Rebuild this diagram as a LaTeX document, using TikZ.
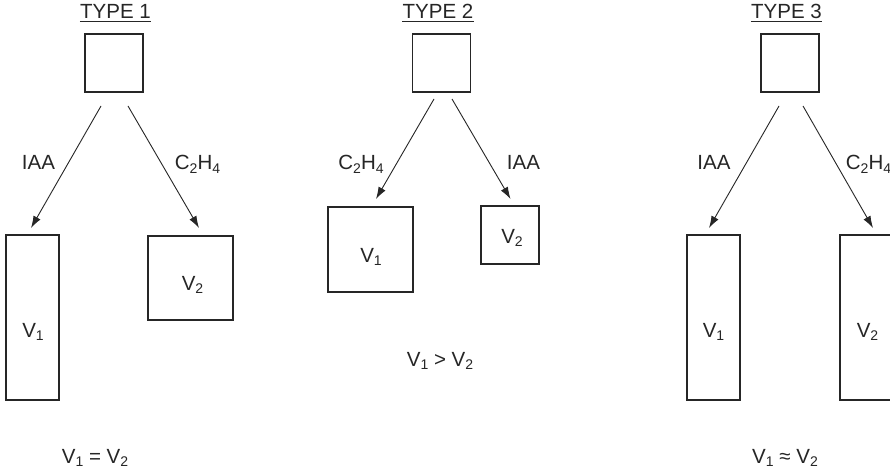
\documentclass[tikz,border=0pt]{standalone}
\usepackage{fontspec}
\setmainfont{Liberation Sans}
\usetikzlibrary{arrows.meta}
\newcommand\sbs[1]{\raisebox{-0.32ex}{\fontsize{14}{14}\selectfont #1}}
\tikzset{
  px/.style={x=1pt,y=-1pt},
  boxn/.style={draw=black!85,line width=1.1pt,inner sep=0pt},
  lbl/.style={anchor=base,inner sep=0pt,font=\fontsize{20.5}{24}\selectfont,text=black!85},
  arr/.style={draw=black!85,line width=0.9pt,-{Latex[length=12pt,width=8pt]}},
  uline/.style={draw=black!85,line width=1.3pt}
}
\begin{document}
\begin{tikzpicture}[px]
\clip (0,0) rectangle (890,470);
\fill[white] (0,0) rectangle (890,470);
% ---------- TYPE 1 ----------
\node[lbl] (t1) at (115.5,19) {TYPE 1};
\draw[uline] ([yshift=-2.5pt]t1.base west) -- ([yshift=-2.5pt]t1.base east);
\node[boxn,minimum width=58pt,minimum height=58pt] (top1) at (114,63) {};
\node[boxn,minimum width=53pt,minimum height=165pt] (b11) at (32.5,317.5) {};
\node[boxn,minimum width=85pt,minimum height=84pt] (b12) at (190.5,278) {};
\node[lbl] (v11) at (33,337) {V\sbs{1}};
\node[lbl] (v12) at (192.5,290) {V\sbs{2}};
\coordinate (s11) at (101,106); \coordinate (e11) at (31,228);
\coordinate (s12) at (128,106); \coordinate (e12) at (199,228);
\draw[arr] (s11) -- (e11);
\draw[arr] (s12) -- (e12);
\node[lbl] (l11) at (38.5,170) {IAA};
\node[lbl] (l12) at (197.5,170) {C\sbs{2}H\sbs{4}};
\node[lbl] (r1) at (95,463) {V\sbs{1} = V\sbs{2}};
% ---------- TYPE 2 ----------
\node[lbl] (t2) at (438,19) {TYPE 2};
\draw[uline] ([yshift=-2.5pt]t2.base west) -- ([yshift=-2.5pt]t2.base east);
\node[boxn,minimum width=58pt,minimum height=58pt] (top2) at (441.5,63) {};
\node[boxn,minimum width=85pt,minimum height=85pt] (b21) at (370.5,249.5) {};
\node[boxn,minimum width=58pt,minimum height=58pt] (b22) at (510,235) {};
\node[lbl] (v21) at (371,262) {V\sbs{1}};
\node[lbl] (v22) at (512,243) {V\sbs{2}};
\coordinate (s21) at (434,99); \coordinate (e21) at (376,199);
\coordinate (s22) at (452,99); \coordinate (e22) at (510.5,199);
\draw[arr] (s21) -- (e21);
\draw[arr] (s22) -- (e22);
\node[lbl] (l21) at (361,170) {C\sbs{2}H\sbs{4}};
\node[lbl] (l22) at (523.5,170) {IAA};
\node[lbl] (r2) at (440,366) {V\sbs{1} > V\sbs{2}};
% ---------- TYPE 3 ----------
\node[lbl] (t3) at (786.5,19) {TYPE 3};
\draw[uline] ([yshift=-2.5pt]t3.base west) -- ([yshift=-2.5pt]t3.base east);
\node[boxn,minimum width=58pt,minimum height=58pt] (top3) at (790,63) {};
\node[boxn,minimum width=53pt,minimum height=165pt] (b31) at (713.5,317.5) {};
\node[boxn,minimum width=60pt,minimum height=165pt] (b32) at (870,317.5) {};
\node[lbl] (v31) at (713.5,337) {V\sbs{1}};
\node[lbl] (v32) at (867.5,337) {V\sbs{2}};
\coordinate (s31) at (779,106); \coordinate (e31) at (709,228);
\coordinate (s32) at (803,106); \coordinate (e32) at (873,228);
\draw[arr] (s31) -- (e31);
\draw[arr] (s32) -- (e32);
\node[lbl] (l31) at (714,170) {IAA};
\node[lbl] (l32) at (868.5,170) {C\sbs{2}H\sbs{4}};
\node[lbl] (r3) at (785,463) {V\sbs{1} ≈ V\sbs{2}};
\end{tikzpicture}
\end{document}
